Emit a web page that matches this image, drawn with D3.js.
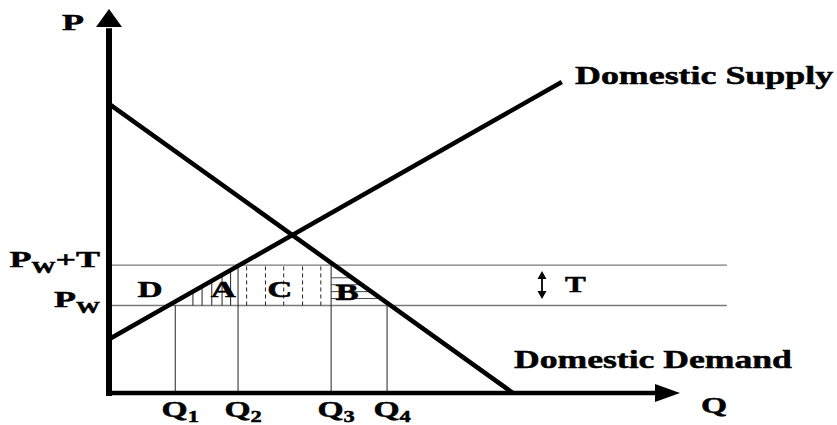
<!DOCTYPE html>
<html>
<head>
<meta charset="utf-8">
<script src="https://cdn.jsdelivr.net/npm/d3@7"></script>
<style>
  html, body { margin: 0; padding: 0; background: #fff; }
  svg text { font-family: "Liberation Serif", "Times New Roman", serif; font-weight: bold; fill: #000; stroke: #000; stroke-width: 0.5px; }
</style>
</head>
<body>
<svg id="chart" width="837" height="425"></svg>
<script>
// ---- data (in diagram units: Q on x, P on y) ----
const supplyPoints = [[0, 14], [79.3, 81]];
const demandPoints = [[0, 75.3], [70.75, 0]];
const priceNames = ["W", "W+T"];          // P_W and P_W+T
const priceValues = [22.8, 33.3];
const quantityNames = ["1", "2", "3", "4"];   // Q1..Q4
const quantityValues = [11.6, 22.6, 38.9, 48.7];
const quantityLevel = [0, 1, 1, 0];         // index into priceValues where each Q line starts
const hatchA = [14.7, 16.3, 18.0, 19.8, 21.3];   // vertical solid hatch (area A)
const hatchC = [24.1, 27.4, 30.6, 33.9, 37.1];   // vertical dashed hatch (area C)
const hatchB = [24.6, 26.4, 28.2, 30.0];         // horizontal hatch (area B), P values
const regionNames = ["D", "A", "C", "B"];
const regionQ = [7.2, 20.0, 29.9, 41.7];
const regionP = [25.0, 25.0, 25.0, 24.2];
const curveNames = ["Domestic Supply", "Domestic Demand"];

// ---- scales ----
const svg = d3.select("#chart");
const x = d3.scaleLinear().domain([0, 100]).range([109, 680]);
const y = d3.scaleLinear().domain([0, 100]).range([393, 9]);

function label(px, py, anchor, size, parts, sx = 1.5) {
  const g = svg.append("g").attr("transform", `translate(${px},${py}) scale(${sx},1)`);
  const t = g.append("text").attr("text-anchor", anchor).style("font-size", size + "px");
  parts.forEach(p => {
    const ts = t.append("tspan").text(p.t);
    if (p.sub) ts.style("font-size", p.sub + "px").attr("dy", p.dy);
    else if (p.dy) ts.attr("dy", p.dy);
  });
  return t;
}

// horizontal price lines
const xEndH = 108.2;
svg.selectAll("line.price").data(priceValues).join("line")
  .attr("class", "price")
  .attr("x1", x(0)).attr("x2", x(xEndH))
  .attr("y1", d => y(d)).attr("y2", d => y(d))
  .attr("stroke", "#7a7a7a").attr("stroke-width", 1.4);

// vertical quantity lines
svg.selectAll("line.qline").data(quantityValues).join("line")
  .attr("class", "qline")
  .attr("x1", d => x(d)).attr("x2", d => x(d))
  .attr("y1", (d, i) => y(priceValues[quantityLevel[i]])).attr("y2", y(0))
  .attr("stroke", "#222").attr("stroke-width", 1);

const sSlope = (supplyPoints[1][1] - supplyPoints[0][1]) / (supplyPoints[1][0] - supplyPoints[0][0]);
const supplyP = q => supplyPoints[0][1] + sSlope * q;
const demandQ = p => demandPoints[1][0] * (demandPoints[0][1] - p) / demandPoints[0][1];

// area A hatch
svg.selectAll("line.ha").data(hatchA).join("line")
  .attr("x1", d => x(d)).attr("x2", d => x(d))
  .attr("y1", y(priceValues[0])).attr("y2", d => y(Math.min(supplyP(d), priceValues[1])))
  .attr("stroke", "#222").attr("stroke-width", 1);

// area C dashed hatch
svg.selectAll("line.hc").data(hatchC).join("line")
  .attr("x1", d => x(d)).attr("x2", d => x(d))
  .attr("y1", y(priceValues[0])).attr("y2", y(priceValues[1]))
  .attr("stroke", "#222").attr("stroke-width", 1).attr("stroke-dasharray", "4,3");

// area B horizontal hatch
svg.selectAll("line.hb").data(hatchB).join("line")
  .attr("x1", x(quantityValues[2])).attr("x2", d => x(demandQ(d)))
  .attr("y1", d => y(d)).attr("y2", d => y(d))
  .attr("stroke", "#444").attr("stroke-width", 1);

// supply & demand
const line = d3.line().x(d => x(d[0])).y(d => y(d[1]));
[supplyPoints, demandPoints].forEach(pts => {
  svg.append("path").attr("d", line(pts)).attr("fill", "none")
    .attr("stroke", "#000").attr("stroke-width", 4.5);
});

// axes
svg.append("line").attr("x1", x(0)).attr("x2", x(0)).attr("y1", y(0) + 3).attr("y2", y(95))
  .attr("stroke", "#000").attr("stroke-width", 6);
svg.append("path").attr("d", `M${x(0)},${y(100)} L${x(0) - 13},${y(100) + 18} L${x(0) + 13},${y(100) + 18} Z`).attr("fill", "#000");
svg.append("line").attr("x1", x(0) - 3).attr("x2", x(97)).attr("y1", y(0)).attr("y2", y(0))
  .attr("stroke", "#000").attr("stroke-width", 4.5);
svg.append("path").attr("d", `M${x(100)},${y(0)} L${x(100) - 25},${y(0) - 9} L${x(100) - 25},${y(0) + 9} Z`).attr("fill", "#000");

// axis titles
label(62, 30, "start", 24, [{ t: "P" }]);
label(701, 413, "start", 24, [{ t: "Q" }], 1.4);

// price labels
priceNames.forEach((n, i) => {
  const parts = [{ t: "P" }, { t: "W", sub: 16, dy: 6 }];
  if (n.length > 1) parts.push({ t: n.slice(1), dy: -6 });
  label(x(0) - 9, y(priceValues[i]) + 2, "end", 24, parts);
});

// quantity labels
quantityNames.forEach((n, i) => {
  label(x(quantityValues[i]) + 5, 417, "middle", 24, [{ t: "Q" }, { t: n, sub: 16, dy: 5 }], 1.4);
});

// region labels
regionNames.forEach((n, i) => label(x(regionQ[i]), y(regionP[i]), "middle", 24, [{ t: n }], 1.45));

// curve labels
label(575, 84, "start", 26, [{ t: curveNames[0] }], 1.38);
label(514, 368, "start", 26, [{ t: curveNames[1] }], 1.37);

// tariff marker
const tx = 542;
svg.append("line").attr("x1", tx).attr("x2", tx).attr("y1", 275).attr("y2", 295)
  .attr("stroke", "#000").attr("stroke-width", 1.8);
svg.append("path").attr("d", `M${tx},271 L${tx - 4.5},279 L${tx + 4.5},279 Z`).attr("fill", "#000");
svg.append("path").attr("d", `M${tx},299 L${tx - 4.5},291 L${tx + 4.5},291 Z`).attr("fill", "#000");
label(575.5, 292, "middle", 24, [{ t: "T" }], 1.3);
</script>
</body>
</html>
